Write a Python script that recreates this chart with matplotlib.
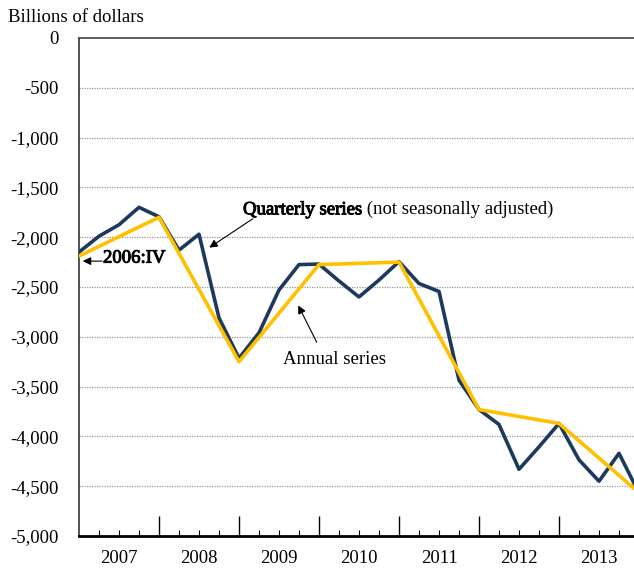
import matplotlib.pyplot as plt
import matplotlib.patheffects as pe
from matplotlib.transforms import blended_transform_factory

plt.rcParams['font.family'] = ['Liberation Serif', 'DejaVu Serif']

# quarter index 0 = 2006:IV, 28 = 2013:IV
quarterly = [-2150, -1990, -1875, -1700, -1795, -2130, -1970, -2810, -3215,
             -2960, -2530, -2275, -2270, -2440, -2600, -2430, -2245, -2465,
             -2545, -3435, -3730, -3880, -4330, -4105, -3870, -4235, -4450,
             -4170, -4570]
annual_q = [0, 4, 8, 12, 16, 20, 24, 28]
annual = [-2190, -1800, -3250, -2275, -2250, -3730, -3870, -4565]
years = ['2007', '2008', '2009', '2010', '2011', '2012', '2013']
yticks = [0, -500, -1000, -1500, -2000, -2500, -3000, -3500, -4000, -4500, -5000]

navy = '#1c3a5e'
gold = '#ffc000'
fs = 13.5
heavy = [pe.withStroke(linewidth=0.7, foreground='black')]

fig = plt.figure(figsize=(6.34, 5.69), dpi=100)
ax = fig.add_axes([79 / 634, 1 - 536 / 569, 1 - 79 / 634, 498 / 569])

ax.plot(range(len(quarterly)), quarterly, color=navy, lw=2.6, zorder=3)
ax.plot(annual_q, annual, color=gold, lw=2.6, zorder=4)

ax.set_xlim(0, 27.75)
ax.set_ylim(-5000, 0)

ax.set_yticks(yticks)
ax.set_yticklabels(['0' if v == 0 else f'{v:,}' for v in yticks], fontsize=fs)
ax.tick_params(axis='y', length=0, pad=15)
for v in yticks[1:-1]:
    ax.axhline(v, color='#999999', lw=0.9, ls=(0, (1, 1)), zorder=1)

ax.set_xticks(range(4, 28, 4))
ax.set_xticks(range(1, 28), minor=True)
ax.set_xticklabels([])
ax.tick_params(axis='x', which='major', direction='in', length=14.5, width=1, color='black')
ax.tick_params(axis='x', which='minor', direction='in', length=4.5, width=0.8, color='black')

tr = blended_transform_factory(ax.transData, ax.transAxes)
for i, y in enumerate(years):
    ax.text(2 + 4 * i, -0.046, y, transform=tr, ha='center', va='center', fontsize=fs)

ax.spines['right'].set_visible(False)
ax.spines['top'].set_color('#444444')
ax.spines['top'].set_linewidth(1.2)
ax.spines['left'].set_color('#333333')
ax.spines['left'].set_linewidth(1.2)
ax.spines['bottom'].set_linewidth(2)

fig.text(8 / 634, 1 - 17 / 569, 'Billions of dollars', fontsize=fs, va='center', ha='left')

# annotations
ax.annotate('', xy=(6.4, -2120), xytext=(8.8, -1800),
            arrowprops=dict(arrowstyle='-|>', color='black', lw=0.8, mutation_scale=12))
t1 = ax.text(8.2, -1725, 'Quarterly series', fontsize=fs, va='center', ha='left',
             path_effects=heavy)
ax.annotate(' (not seasonally adjusted)', xycoords=t1, xy=(1, 0.5), va='center', ha='left',
            fontsize=fs)

ax.annotate('', xy=(0.05, -2240), xytext=(1.3, -2240),
            arrowprops=dict(arrowstyle='-|>', color='black', lw=0.8, mutation_scale=12))
ax.text(1.2, -2210, '2006:IV', fontsize=fs, va='center', ha='left', path_effects=heavy)

ax.annotate('', xy=(10.9, -2660), xytext=(11.95, -3080),
            arrowprops=dict(arrowstyle='-|>', color='black', lw=0.8, mutation_scale=12))
ax.text(10.2, -3230, 'Annual series', fontsize=fs, va='center', ha='left')

fig.savefig('out.png', dpi=100)
